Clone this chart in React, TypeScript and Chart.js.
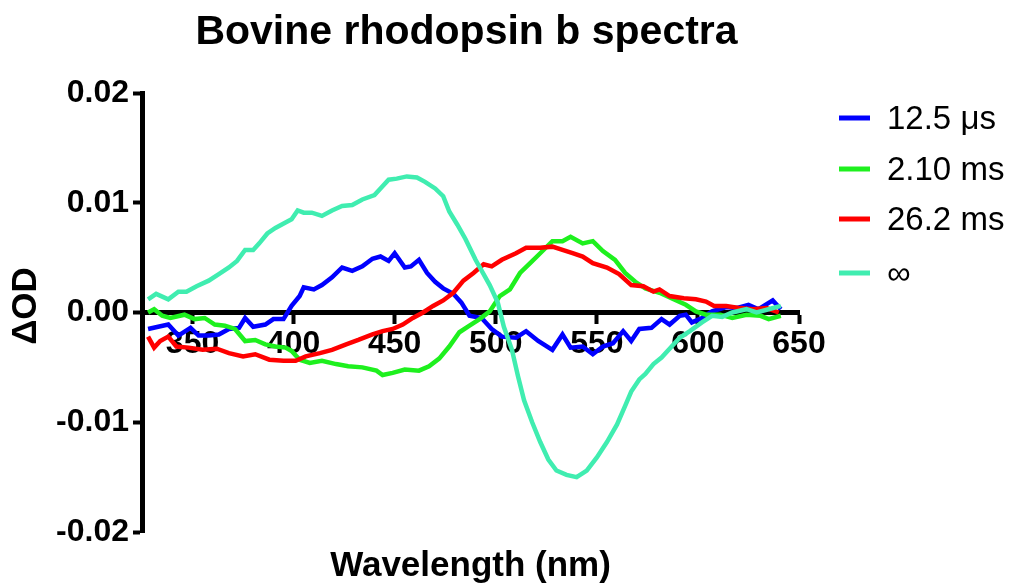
import React, { useEffect, useRef } from "react";
import { Chart, registerables } from "chart.js";

Chart.register(...registerables);

// ---- data ----
const seriesLabels = ["12.5 μs", "2.10 ms", "26.2 ms", "∞"];
const seriesColors = ["#0000FF", "#1EF01E", "#FF0000", "#40EDB0"];

const wl125us = [328, 333, 338, 343, 349, 353, 358, 363, 368, 373, 376, 380, 386, 390, 395, 399, 403, 405, 410, 414, 419, 424, 429, 434, 439, 443, 447, 450, 455, 458, 462, 466, 470, 474, 479, 483, 487, 493, 498, 503, 510, 515, 521, 528, 533, 537, 543, 548, 553, 558, 563, 567, 571, 577, 582, 586, 591, 594, 597, 602, 607, 614, 619, 625, 630, 637, 641];
const od125us = [-0.0015, -0.0013, -0.0011, -0.0021, -0.0014, -0.0021, -0.0021, -0.002, -0.0015, -0.0014, -0.0005, -0.0013, -0.0011, -0.0006, -0.0006, 0.0006, 0.0015, 0.0023, 0.0021, 0.0025, 0.0032, 0.0041, 0.0038, 0.0042, 0.0049, 0.0051, 0.0047, 0.0054, 0.0041, 0.0042, 0.0048, 0.0036, 0.0028, 0.0022, 0.0017, 0.0009, -0.0003, -0.0005, -0.0015, -0.0022, -0.0023, -0.0017, -0.0026, -0.0034, -0.002, -0.0032, -0.0031, -0.0038, -0.0031, -0.0028, -0.0017, -0.0026, -0.0015, -0.0014, -0.0006, -0.0011, -0.0003, -0.0002, -0.0009, -0.0005, 0.0001, 0.0005, 0.0004, 0.0007, 0.0003, 0.0011, 0.0003];

const wl210ms = [328, 331, 335, 339, 346, 351, 356, 361, 366, 371, 376, 381, 386, 391, 396, 399, 403, 408, 414, 421, 427, 434, 441, 444, 449, 455, 462, 467, 472, 477, 482, 487, 492, 497, 502, 507, 512, 517, 522, 528, 533, 537, 543, 548, 553, 559, 564, 569, 574, 581, 588, 594, 599, 604, 611, 617, 624, 631, 635, 641];
const od210ms = [0.0, 0.0003, -0.0003, -0.0005, -0.0002, -0.0006, -0.0005, -0.0011, -0.0012, -0.0015, -0.0026, -0.0025, -0.0029, -0.0031, -0.0032, -0.0035, -0.0043, -0.0046, -0.0044, -0.0047, -0.0049, -0.005, -0.0053, -0.0057, -0.0055, -0.0052, -0.0053, -0.0049, -0.0042, -0.0031, -0.0018, -0.0012, -0.0006, 0.0001, 0.0015, 0.0021, 0.0036, 0.0045, 0.0054, 0.0065, 0.0065, 0.0069, 0.0063, 0.0065, 0.0056, 0.0048, 0.0036, 0.0028, 0.0022, 0.0018, 0.0012, 0.0007, 0.0001, -0.0002, -0.0002, -0.0005, -0.0002, -0.0003, -0.0006, -0.0003];

const wl262ms = [328, 331, 334, 338, 342, 348, 355, 362, 368, 375, 381, 388, 395, 401, 406, 413, 419, 426, 432, 439, 444, 449, 454, 459, 464, 469, 474, 479, 484, 489, 494, 498, 503, 510, 515, 522, 528, 533, 538, 543, 548, 555, 561, 567, 573, 578, 581, 586, 593, 599, 604, 608, 614, 621, 627, 634, 640];
const od262ms = [-0.0022, -0.0032, -0.0026, -0.0022, -0.0031, -0.0032, -0.0034, -0.0033, -0.0037, -0.004, -0.0038, -0.0043, -0.0044, -0.0044, -0.004, -0.0037, -0.0034, -0.0029, -0.0025, -0.002, -0.0017, -0.0015, -0.0011, -0.0005, 0.0, 0.0006, 0.0011, 0.0018, 0.0029, 0.0036, 0.0044, 0.0042, 0.0048, 0.0054, 0.0059, 0.0059, 0.006, 0.0057, 0.0054, 0.0051, 0.0045, 0.0041, 0.0035, 0.0025, 0.0024, 0.0019, 0.0021, 0.0015, 0.0013, 0.0012, 0.001, 0.0006, 0.0006, 0.0004, 0.0003, 0.0004, 0.0];

const wlInf = [328, 332, 338, 343, 347, 352, 358, 363, 368, 372, 376, 380, 383, 387, 391, 396, 399, 402, 405, 409, 414, 419, 424, 429, 434, 440, 444, 447, 451, 456, 461, 465, 470, 474, 477, 481, 485, 490, 497, 501, 504, 508, 511, 514, 518, 522, 526, 530, 535, 540, 545, 550, 555, 560, 564, 567, 571, 574, 578, 582, 587, 591, 596, 602, 607, 612, 617, 624, 629, 635, 641];
const odInf = [0.0012, 0.0017, 0.0012, 0.0019, 0.0019, 0.0024, 0.0029, 0.0035, 0.0041, 0.0047, 0.0057, 0.0057, 0.0063, 0.0072, 0.0077, 0.0082, 0.0085, 0.0093, 0.0091, 0.0091, 0.0088, 0.0093, 0.0097, 0.0098, 0.0103, 0.0107, 0.0115, 0.0121, 0.0122, 0.0124, 0.0123, 0.0119, 0.0113, 0.0106, 0.0092, 0.008, 0.0067, 0.0048, 0.0025, 0.0009, -0.0013, -0.0034, -0.0058, -0.008, -0.01, -0.0118, -0.0134, -0.0144, -0.0148, -0.015, -0.0144, -0.0132, -0.0118, -0.0102, -0.0085, -0.0072, -0.0061, -0.0056, -0.0047, -0.0041, -0.0031, -0.0023, -0.0017, -0.0009, -0.0003, -0.0004, 0.0, 0.0003, 0.0, 0.0003, 0.0006];

const xTickValues = [350, 400, 450, 500, 550, 600, 650];
const yTickValues = [-0.02, -0.01, 0, 0.01, 0.02];
const xMin = 325;
const xMax = 650;
const yMin = -0.02;
const yMax = 0.02;

const chartTitle = "Bovine rhodopsin b spectra";
const xAxisTitle = "Wavelength (nm)";
const yAxisTitle = "ΔOD";

const FONT = '"Liberation Sans", Arial, Helvetica, sans-serif';

const allWl = [wl125us, wl210ms, wl262ms, wlInf];
const allOd = [od125us, od210ms, od262ms, odInf];

const decorPlugin = {
  id: "decor",
  afterDraw(chart: any) {
    const { ctx, chartArea } = chart;
    const cx = (chartArea.left + chartArea.right) / 2;
    ctx.save();
    ctx.fillStyle = "#000";
    ctx.textAlign = "center";
    ctx.textBaseline = "alphabetic";
    ctx.font = `bold 41px ${FONT}`;
    ctx.fillText(chartTitle, cx - 4, 44);
    ctx.font = `bold 35px ${FONT}`;
    ctx.fillText(xAxisTitle, cx, 576);
    ctx.save();
    ctx.translate(36, 306);
    ctx.rotate(-Math.PI / 2);
    ctx.fillText(yAxisTitle, 0, 0);
    ctx.restore();

    // legend
    const lx = chartArea.right + 40;
    const ys = [118, 169, 219, 273];
    ctx.font = `33px ${FONT}`;
    ctx.textAlign = "left";
    ctx.textBaseline = "middle";
    chart.data.datasets.forEach((ds: any, i: number) => {
      ctx.strokeStyle = ds.borderColor;
      ctx.lineWidth = 5;
      ctx.beginPath();
      ctx.moveTo(lx, ys[i]);
      ctx.lineTo(lx + 31, ys[i]);
      ctx.stroke();
      ctx.fillStyle = "#000";
      ctx.fillText(ds.label, lx + 48, ys[i] + 2);
    });
    ctx.restore();
  },
};

export default function App() {
  const ref = useRef<HTMLCanvasElement | null>(null);
  useEffect(() => {
    document.body.style.margin = "0";
    const canvas = ref.current!;
    const datasets = seriesLabels.map((label, i) => ({
      label,
      data: allWl[i].map((x, j) => ({ x, y: allOd[i][j] })),
      borderColor: seriesColors[i],
      backgroundColor: seriesColors[i],
      borderWidth: 4.5,
      pointRadius: 0,
      tension: 0,
      fill: false,
      order: 3 - i,
    }));
    const chart = new Chart(canvas, {
      type: "line",
      data: { datasets },
      options: {
        animation: false,
        responsive: false,
        layout: { padding: { left: 0, right: 222, top: 93, bottom: 54 } },
        plugins: {
          legend: { display: false },
          title: { display: false },
          tooltip: { enabled: false },
        },
        scales: {
          x: {
            type: "linear",
            min: xMin,
            max: xMax,
            position: { y: 0 } as any,
            afterBuildTicks: (scale: any) => {
              scale.ticks = xTickValues.map((v) => ({ value: v }));
            },
            grid: {
              display: true,
              drawOnChartArea: false,
              drawTicks: true,
              tickLength: 9,
              tickWidth: 4,
              color: "#000",
            },
            border: { display: true, width: 5, color: "#000" },
            ticks: {
              autoSkip: false,
              maxRotation: 0,
              padding: 3,
              color: "#000",
              font: { family: FONT, size: 32, weight: "bold" },
              callback: (v: any) => String(v),
            },
          },
          y: {
            type: "linear",
            min: yMin,
            max: yMax,
            position: "left",
            afterBuildTicks: (scale: any) => {
              scale.ticks = yTickValues.map((v) => ({ value: v }));
            },
            afterFit: (scale: any) => {
              scale.width = 142;
            },
            grid: {
              display: true,
              drawOnChartArea: false,
              drawTicks: true,
              tickLength: 9,
              tickWidth: 4,
              color: "#000",
            },
            border: { display: true, width: 5, color: "#000" },
            ticks: {
              padding: 4,
              color: "#000",
              font: { family: FONT, size: 32, weight: "bold" },
              callback: (v: any) => Number(v).toFixed(2),
            },
          },
        },
      },
      plugins: [decorPlugin],
    });
    return () => chart.destroy();
  }, []);
  return (
    <div style={{ width: 1021, height: 586 }}>
      <canvas ref={ref} width={1021} height={586} style={{ display: "block" }} />
    </div>
  );
}
